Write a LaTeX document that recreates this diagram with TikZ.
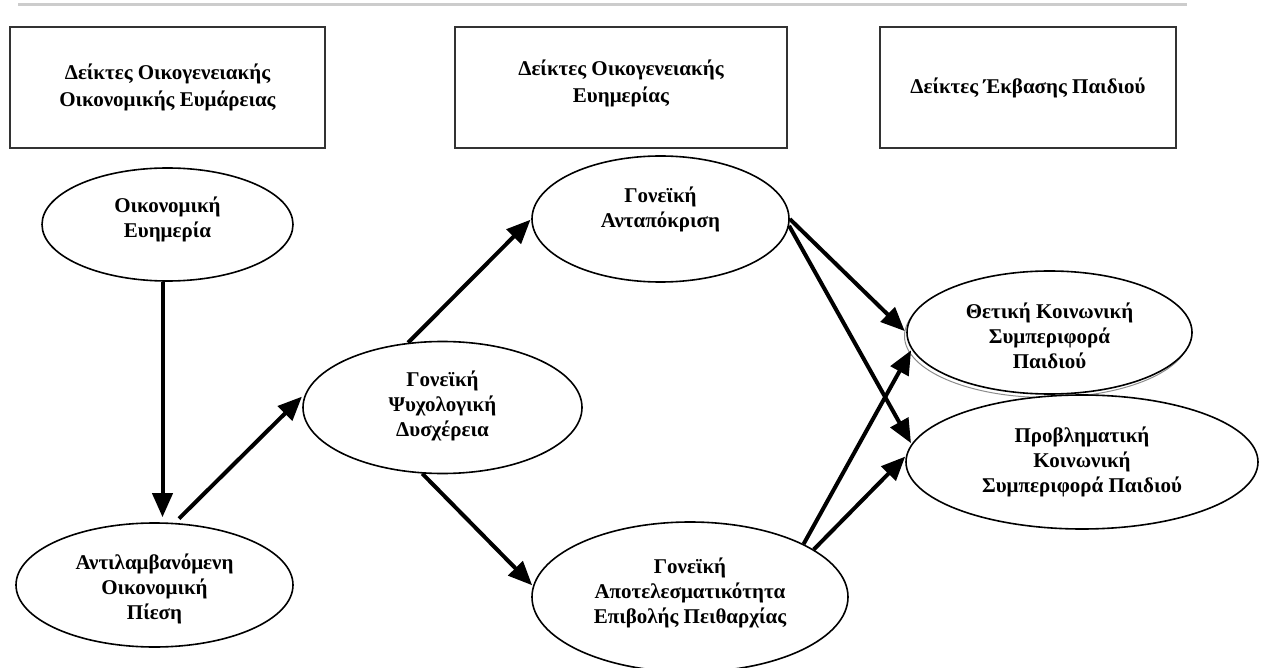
\documentclass[tikz,border=0pt]{standalone}
\usepackage{fontspec}
\setmainfont{Liberation Serif}
\usetikzlibrary{shapes.geometric,arrows.meta}

\begin{document}
\begin{tikzpicture}[x=1pt,y=-1pt,
  hdr/.style={draw=black!80,line width=1.8pt,inner sep=0pt,align=center,
    font=\bfseries\fontsize{21}{27}\selectfont},
  var/.style={ellipse,draw,line width=1.6pt,fill=white,inner sep=0pt},
  txt/.style={align=center,inner sep=0pt,font=\bfseries\fontsize{21}{25}\selectfont},
  link/.style={line width=4pt,-{Triangle[length=24pt,width=20pt]}}]

\useasboundingbox (0,0) rectangle (1264,668);

% rule across the top
\draw[black!20,line width=3pt] (18,5) -- (1187,5);

% column headings
\node[hdr,minimum width=315pt,minimum height=121pt] (h1) at (167.5,87.5)
  {Δείκτες Οικογενειακής\\Οικονομικής Ευμάρειας};
\node[hdr,minimum width=332pt,minimum height=121pt] (h2) at (621,87.5) {};
\node[font=\bfseries\fontsize{21}{27}\selectfont,align=center,inner sep=0pt,yshift=4pt] (h2T) at (h2)
  {Δείκτες Οικογενειακής\\Ευημερίας};
\node[hdr,minimum width=296pt,minimum height=121pt] (h3) at (1028,87.5)
  {Δείκτες Έκβασης Παιδιού};

% faint second outline under the positive-behaviour ellipse
\draw[black!45,line width=1pt] (1047,336) ellipse [x radius=142.5, y radius=61.5];

% variables
\node[var,minimum width=251pt,minimum height=113pt] (eco) at (167.5,224.5) {};
\node[var,minimum width=277pt,minimum height=124pt] (press) at (154.5,585) {};
\node[var,minimum width=279pt,minimum height=132pt] (dist) at (442.5,407.5) {};
\node[var,minimum width=257pt,minimum height=126pt] (resp) at (660.5,219) {};
\node[var,minimum width=316pt,minimum height=150pt] (disc) at (690,597) {};
\node[var,minimum width=285pt,minimum height=123pt] (pos) at (1049.5,332.5) {};
\node[var,minimum width=352pt,minimum height=134pt] (prob) at (1082,462) {};

\node[txt,yshift=5pt] (ecoT) at (eco) {Οικονομική\\Ευημερία};
\node[txt,yshift=-4pt] (pressT) at (press) {Αντιλαμβανόμενη\\Οικονομική\\Πίεση};
\node[txt,yshift=2pt] (distT) at (dist) {Γονεϊκή\\Ψυχολογική\\Δυσχέρεια};
\node[txt,yshift=10pt] (respT) at (resp) {Γονεϊκή\\Ανταπόκριση};
\node[txt,yshift=4pt] (discT) at (disc) {Γονεϊκή\\Αποτελεσματικότητα\\Επιβολής Πειθαρχίας};
\node[txt,yshift=-3pt] (posT) at (pos) {Θετική Κοινωνική\\Συμπεριφορά\\Παιδιού};
\node[txt] (probT) at (prob) {Προβληματική\\Κοινωνική\\Συμπεριφορά Παιδιού};

% paths
\draw[link,shorten >=5pt] ([xshift=-5pt]eco.south) -- ([xshift=-5pt]eco.south |- press.north);
\draw[link,shorten <=6pt,shorten >=5pt] (press.72) -- (dist.174);
\draw[link,shorten >=1pt] (dist.118) -- (resp.west);
\draw[link,shorten >=1pt] (dist.253) -- (disc.176);
\draw[link,shorten >=2pt] (resp.east) -- (pos.west);
\draw[link,shorten >=1pt] (resp.-3) -- (prob.174);
\draw[link,shorten >=1pt] (disc.25) -- (pos.187);
\draw[link,shorten >=1pt] (disc.21) -- (prob.178);
\end{tikzpicture}
\end{document}
